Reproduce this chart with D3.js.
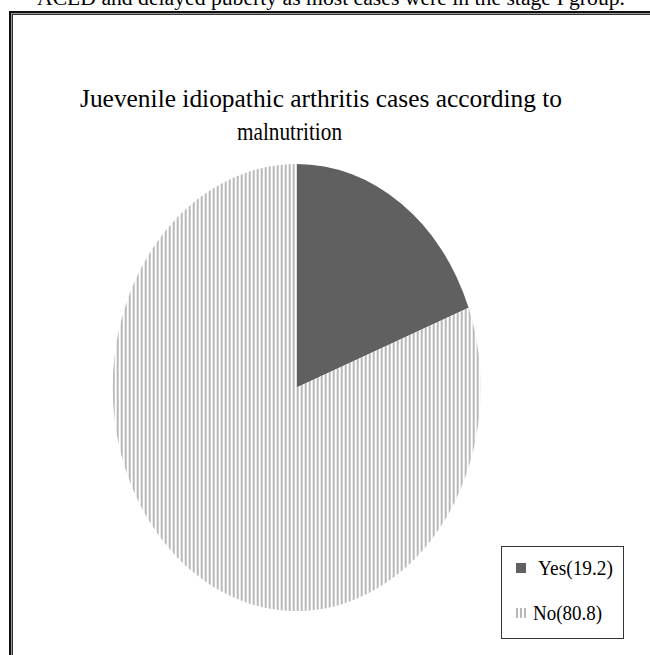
<!DOCTYPE html>
<html>
<head>
<meta charset="utf-8">
<script src="https://cdn.jsdelivr.net/npm/d3@7"></script>
<style>
html,body{margin:0;padding:0;background:#fff;}
svg{display:block;}
</style>
</head>
<body>
<svg id="chart" width="650" height="655"></svg>
<script>
const categories = ["Yes", "No"];
const values = [19.2, 80.8];
const legendLabels = ["Yes(19.2)", "No(80.8)"];
const titleLines = ["Juevenile idiopathic arthritis cases according to", "malnutrition"];
const captionText = "ACLD and delayed puberty as most cases were in the stage I group.";

const FONT = "'Liberation Serif', 'Times New Roman', Times, 'DejaVu Serif', serif";
const svg = d3.select("#chart");

// caption text partially cut at top (as in the reference)
svg.append("text").attr("x", 37).attr("y", 5).attr("font-size", 20)
  .attr("font-family", FONT).attr("fill", "#000")
  .attr("textLength", 588).attr("lengthAdjust", "spacingAndGlyphs").text(captionText);

// frame (double line)
svg.append("rect").attr("x", 10).attr("y", 12).attr("width", 660).attr("height", 680)
  .attr("fill", "none").attr("stroke", "#111").attr("stroke-width", 2);
svg.append("rect").attr("x", 11.5).attr("y", 13.5).attr("width", 660).attr("height", 680)
  .attr("fill", "none").attr("stroke", "#999").attr("stroke-width", 1);
svg.append("rect").attr("x", 12.5).attr("y", 14.5).attr("width", 660).attr("height", 680)
  .attr("fill", "none").attr("stroke", "#333").attr("stroke-width", 1);

// title
const titlePos = [{x0: 80, x1: 562, y: 107}, {x0: 237, x1: 342, y: 140}];
titleLines.forEach((t, i) => {
  svg.append("text").attr("x", titlePos[i].x0).attr("y", titlePos[i].y)
    .attr("font-family", FONT).attr("fill", "#000")
    .attr("font-size", 26).attr("textLength", titlePos[i].x1 - titlePos[i].x0)
    .attr("lengthAdjust", "spacingAndGlyphs").text(t);
});

// pie
const cx = 296.7, cy = 387.5, rx = 184, ry = 223.5;
const sx = rx / ry;
const defs = svg.append("defs");
function stripePattern(id, scale) {
  const p = defs.append("pattern").attr("id", id).attr("patternUnits", "userSpaceOnUse")
    .attr("width", 4 / scale).attr("height", 10).attr("x", 0);
  p.append("rect").attr("width", 4 / scale).attr("height", 10).attr("fill", "#fff");
  p.append("rect").attr("width", 2 / scale).attr("height", 10).attr("fill", "#b8b8b8");
}
stripePattern("stripesPie", sx);
stripePattern("stripesLeg", 1);

const fills = ["#606060", "url(#stripesPie)"];
const legFills = ["#606060", "url(#stripesLeg)"];
const pie = d3.pie().sort(null).value(d => d)(values);
const arc = d3.arc().innerRadius(0).outerRadius(ry);
svg.append("g").attr("transform", `translate(${cx},${cy}) scale(${sx},1)`)
  .selectAll("path").data(pie).join("path")
  .attr("d", arc).attr("fill", (d, i) => fills[i]);

// legend
const lg = svg.append("g");
lg.append("rect").attr("x", 501.5).attr("y", 546.5).attr("width", 122).attr("height", 92)
  .attr("fill", "#fff").attr("stroke", "#333").attr("stroke-width", 1);
const legY = d3.scalePoint().domain(categories).range([568, 613]);
const legTextX = [538, 533];
const legTextW = [75, 69];
categories.forEach((c, i) => {
  const y = legY(c);
  lg.append("rect").attr("x", 516).attr("y", y - 5).attr("width", 10).attr("height", 10)
    .attr("fill", legFills[i]);
  lg.append("text").attr("x", legTextX[i]).attr("y", y + 7).attr("font-size", 22)
    .attr("font-family", FONT).attr("fill", "#000")
    .attr("textLength", legTextW[i]).attr("lengthAdjust", "spacingAndGlyphs").text(legendLabels[i]);
});
</script>
</body>
</html>
